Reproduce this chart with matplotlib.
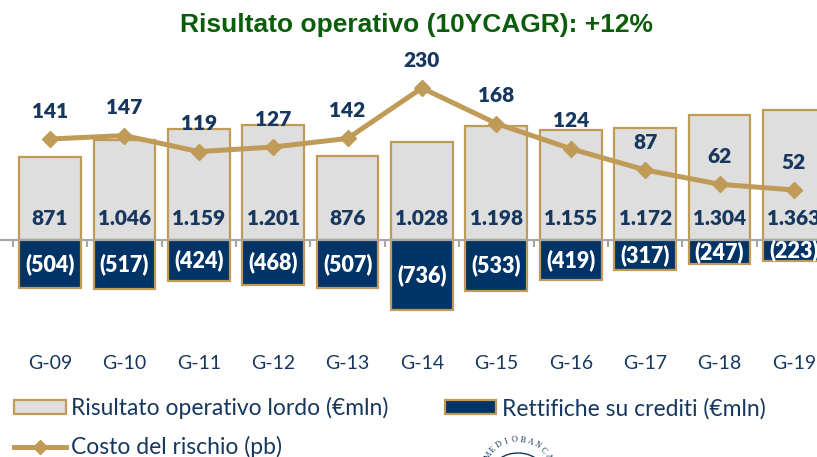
import numpy as np
import matplotlib
matplotlib.use("Agg")
import matplotlib.pyplot as plt
from matplotlib.patches import Patch, Arc
from matplotlib.lines import Line2D

periods = ["G-09", "G-10", "G-11", "G-12", "G-13", "G-14", "G-15", "G-16", "G-17", "G-18", "G-19"]
gross_result = [871, 1046, 1159, 1201, 876, 1028, 1198, 1155, 1172, 1304, 1363]
write_downs = [-504, -517, -424, -468, -507, -736, -533, -419, -317, -247, -223]
risk_cost = [141, 147, 119, 127, 142, 230, 168, 124, 87, 62, 52]

gross_labels = ["871", "1.046", "1.159", "1.201", "876", "1.028", "1.198", "1.155", "1.172", "1.304", "1.363"]
write_labels = ["(504)", "(517)", "(424)", "(468)", "(507)", "(736)", "(533)", "(419)", "(317)", "(247)", "(223)"]

NAVY = "#003366"
GOLD = "#C09A57"
GREY = "#DEDEDE"
TEXT = "#17375E"

plt.rcParams["font.family"] = ["Lato", "DejaVu Sans"]

fig = plt.figure(figsize=(8.17, 4.57), dpi=100)
ax = fig.add_axes([0, 0, 1, 1])
ax.patch.set_alpha(0)

x = np.arange(len(periods))
ax.bar(x, gross_result, width=0.83, color=GREY, edgecolor=GOLD, linewidth=1.6, zorder=2)
ax.bar(x, write_downs, width=0.83, color=NAVY, edgecolor=GOLD, linewidth=1.6, zorder=2)

ax.set_xlim(-0.672, 10.31)
ax.set_ylim(-2272, 2513)
ax.set_yticks([])
for s in ["top", "left", "right"]:
    ax.spines[s].set_visible(False)
ax.spines["bottom"].set_position(("data", 0))
ax.spines["bottom"].set_color("#A6A6A6")
ax.spines["bottom"].set_linewidth(1.5)
ax.spines["bottom"].set_zorder(3)
ax.set_xticks(x)
ax.set_xticklabels(periods, fontsize=14, color=TEXT)
ax.tick_params(axis="x", which="major", length=0, pad=83)
ax.set_xticks(np.arange(-0.5, 10.5), minor=True)
ax.tick_params(axis="x", which="minor", length=5, width=1.5, color="#A6A6A6")

for i in x:
    ax.annotate(gross_labels[i], (i, 0), xytext=(0, 9), textcoords="offset points",
                ha="center", va="bottom", fontsize=15, fontweight="heavy", color=TEXT, zorder=6)
    ax.text(i, write_downs[i] / 2, write_labels[i], ha="center", va="center",
            fontsize=15.5, fontweight="heavy", color="white", zorder=6)

ax2 = fig.add_axes([0, 0, 1, 1], sharex=ax)
ax2.patch.set_alpha(0)
ax2.axis("off")
ax2.set_ylim(-414, 383.6)
ax2.plot(x, risk_cost, color=GOLD, lw=3.6, marker="D", ms=8, zorder=4)
for i in x:
    ax2.annotate(str(risk_cost[i]), (i, risk_cost[i]), xytext=(0, 20), textcoords="offset points",
                 ha="center", va="center", fontsize=15, fontweight="heavy", color=TEXT)

fig.text(417 / 817, 1 - 25 / 457, "Risultato operativo (10YCAGR): +12%", ha="center", va="center",
         fontsize=19, fontweight="bold", color="#0B5C0B", family="Liberation Sans")

handles = [Patch(facecolor=GREY, edgecolor=GOLD, linewidth=1.6),
           Line2D([], [], color=GOLD, lw=3.6, marker="D", ms=7),
           Patch(facecolor=NAVY, edgecolor=GOLD, linewidth=1.6)]
names = ["Risultato operativo lordo (€mln)", "Costo del rischio (pb)", "Rettifiche su crediti (€mln)"]
fig.legend(handles, names, ncol=2, loc="upper left", bbox_to_anchor=(14 / 817, 1 - 397 / 457), frameon=False,
           fontsize=16.5, labelcolor=TEXT, handlelength=2.25, handleheight=0.6, handletextpad=0.25,
           columnspacing=2.45, labelspacing=0.75, borderpad=0, borderaxespad=0)

# logo at the bottom, only the top of it is inside the page
logo = fig.add_axes([0, 0, 1, 1])
logo.set_xlim(0, 817)
logo.set_ylim(457, 0)
logo.axis("off")
logo.patch.set_alpha(0)
for k, ch in enumerate("MEDIOBANCA"):
    a = np.radians(150 - k * 13.5)
    logo.text(518 + 34 * np.cos(a), 471 - 31 * np.sin(a), ch, fontsize=6, color=TEXT, family="Liberation Serif",
              rotation=np.degrees(a) - 90, ha="center", va="center")
logo.add_patch(Arc((518, 471), 50, 36, theta1=180, theta2=360, color=TEXT, lw=1))
logo.add_patch(Arc((518, 471), 38, 26, theta1=180, theta2=360, color=TEXT, lw=1, ls=":"))

fig.savefig("out.png", dpi=100)
